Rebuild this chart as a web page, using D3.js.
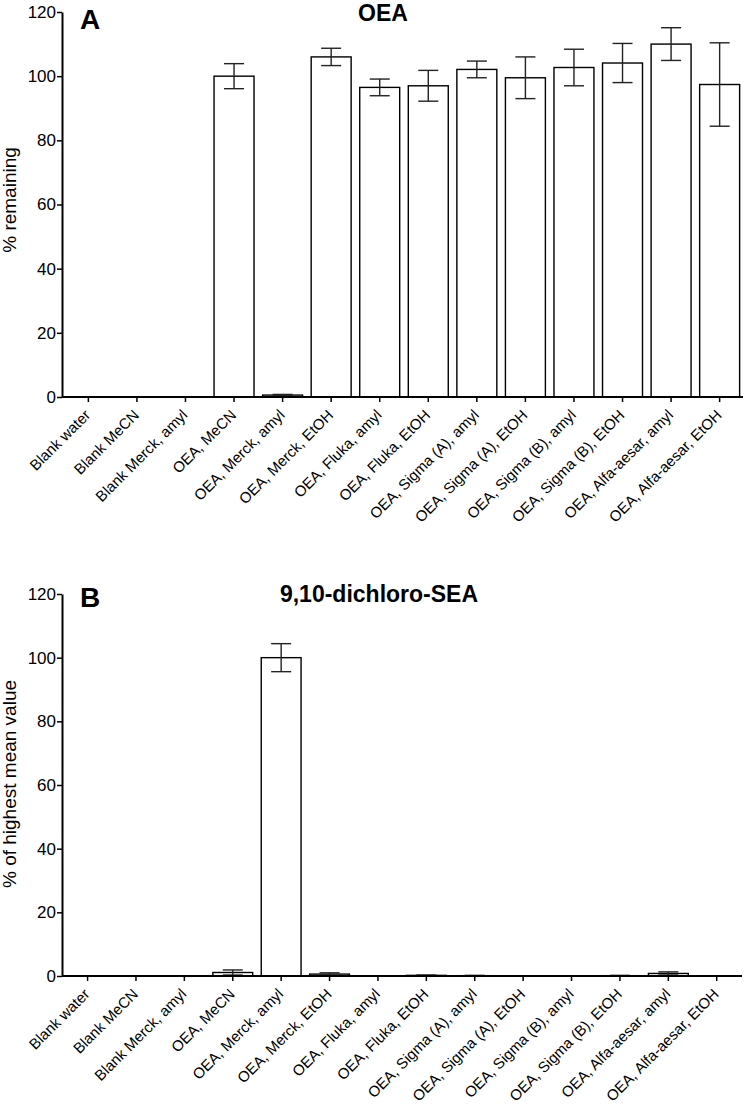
<!DOCTYPE html>
<html>
<head>
<meta charset="utf-8">
<script src="https://cdn.jsdelivr.net/npm/d3@7"></script>
<style>
  body { margin: 0; background: #fff; }
  svg { display: block; font-family: "Liberation Sans", Arial, sans-serif; }
</style>
</head>
<body>
<svg id="chart" width="749" height="1113"></svg>
<script>
var categories = [
	"Blank water", "Blank MeCN", "Blank Merck, amyl", "OEA, MeCN",
	"OEA, Merck, amyl", "OEA, Merck, EtOH", "OEA, Fluka, amyl", "OEA, Fluka, EtOH",
	"OEA, Sigma (A), amyl", "OEA, Sigma (A), EtOH", "OEA, Sigma (B), amyl",
	"OEA, Sigma (B), EtOH", "OEA, Alfa-aesar, amyl", "OEA, Alfa-aesar, EtOH"
];

// panel A: OEA, % remaining (mean, error)
var oeaMean = [0, 0, 0, 100, 0.6, 106, 96.5, 97, 102.1, 99.5, 102.7, 104.1, 110, 97.4];
var oeaErr  = [0, 0, 0, 3.9, 0.2, 2.7, 2.6, 4.8, 2.6, 6.5, 5.7, 6.1, 5.1, 13];

// panel B: 9,10-dichloro-SEA, % of highest mean value
var dclMean = [0, 0, 0, 1.1, 100, 0.6, 0, 0.2, 0.1, 0, 0, 0.1, 0.8, 0];
var dclErr  = [0, 0, 0, 0.8, 4.4, 0.4, 0, 0.1, 0.1, 0, 0, 0.1, 0.5, 0];

var yTicks = [0, 20, 40, 60, 80, 100, 120];

var svg = d3.select("#chart");

function drawPanel(p) {
	var g = svg.append("g");

	var x = d3.scaleBand()
		.domain(categories)
		.range([p.x0, p.x1])
		.paddingInner(0.177)
		.paddingOuter(0.09);

	var y = d3.scaleLinear()
		.domain([0, 120])
		.range([p.yBottom, p.yTop]);

	// bars
	g.selectAll("rect.bar")
		.data(p.mean)
		.enter().append("rect")
		.attr("class", "bar")
		.attr("x", function(d, i) { return x(categories[i]); })
		.attr("width", x.bandwidth())
		.attr("y", function(d) { return y(d); })
		.attr("height", function(d) { return y(0) - y(d); })
		.attr("fill", "#fff")
		.attr("stroke", "#000")
		.attr("stroke-width", 1.4);

	// error bars
	var cap = 10;
	var eb = g.selectAll("g.err")
		.data(p.mean.map(function(m, i) { return {m: m, e: p.err[i], c: categories[i]}; })
			.filter(function(d) { return d.e > 0; }))
		.enter().append("g")
		.attr("class", "err")
		.attr("stroke", "#222")
		.attr("stroke-width", 1.4);

	eb.append("line")
		.attr("x1", function(d) { return x(d.c) + x.bandwidth() / 2; })
		.attr("x2", function(d) { return x(d.c) + x.bandwidth() / 2; })
		.attr("y1", function(d) { return y(d.m - d.e); })
		.attr("y2", function(d) { return y(d.m + d.e); });
	eb.append("line")
		.attr("x1", function(d) { return x(d.c) + x.bandwidth() / 2 - cap; })
		.attr("x2", function(d) { return x(d.c) + x.bandwidth() / 2 + cap; })
		.attr("y1", function(d) { return y(d.m + d.e); })
		.attr("y2", function(d) { return y(d.m + d.e); });
	eb.append("line")
		.attr("x1", function(d) { return x(d.c) + x.bandwidth() / 2 - cap; })
		.attr("x2", function(d) { return x(d.c) + x.bandwidth() / 2 + cap; })
		.attr("y1", function(d) { return y(Math.max(0, d.m - d.e)); })
		.attr("y2", function(d) { return y(Math.max(0, d.m - d.e)); });

	// y axis
	var yAxis = g.append("g")
		.attr("transform", "translate(" + p.axisX + ",0)")
		.call(d3.axisLeft(y).tickValues(yTicks).tickSize(5).tickPadding(1).tickSizeOuter(0));
	yAxis.select(".domain").attr("stroke-width", 2);
	yAxis.selectAll(".tick line").attr("stroke-width", 1.5);
	yAxis.selectAll("text").attr("font-size", 17).attr("fill", "#000")
		.attr("font-family", "Liberation Sans, Arial, sans-serif");

	// x axis
	var xAxis = g.append("g")
		.attr("transform", "translate(0," + p.yBottom + ")")
		.call(d3.axisBottom(x).tickSize(5).tickSizeOuter(0).tickFormat(""));
	xAxis.select(".domain").attr("d", "M" + p.axisX + ",0H" + p.axisEnd).attr("stroke-width", 2);
	xAxis.selectAll(".tick line").attr("stroke-width", 1.5);

	g.selectAll("text.xlab")
		.data(categories)
		.enter().append("text")
		.attr("class", "xlab")
		.attr("transform", function(d) {
			return "translate(" + (x(d) + x.bandwidth() / 2 + 3) + "," + (p.yBottom + 19) + ") rotate(-45)";
		})
		.attr("text-anchor", "end")
		.attr("font-size", 15)
		.text(function(d) { return d; });

	// y label
	g.append("text")
		.attr("transform", "translate(" + 16 + "," + p.labelY + ") rotate(-90)")
		.attr("text-anchor", "middle")
		.attr("font-size", 19)
		.text(p.yLabel);

	// titles
	g.append("text")
		.attr("x", p.titleX)
		.attr("y", p.titleY)
		.attr("text-anchor", "middle")
		.attr("font-weight", "bold")
		.attr("font-size", 23)
		.text(p.title);

	g.append("text")
		.attr("x", 80)
		.attr("y", p.letterY)
		.attr("font-weight", "bold")
		.attr("font-size", 28)
		.text(p.letter);
}

drawPanel({
	mean: oeaMean, err: oeaErr,
	x0: 64, x1: 744, axisX: 62, axisEnd: 743,
	yBottom: 397, yTop: 12,
	yLabel: "% remaining", labelY: 200,
	title: "OEA", titleX: 383, titleY: 21,
	letter: "A", letterY: 29
});

drawPanel({
	mean: dclMean, err: dclErr,
	x0: 63.3, x1: 741, axisX: 62, axisEnd: 742,
	yBottom: 976, yTop: 594,
	yLabel: "% of highest mean value", labelY: 784,
	title: "9,10-dichloro-SEA", titleX: 379, titleY: 602,
	letter: "B", letterY: 607
});
</script>
</body>
</html>
